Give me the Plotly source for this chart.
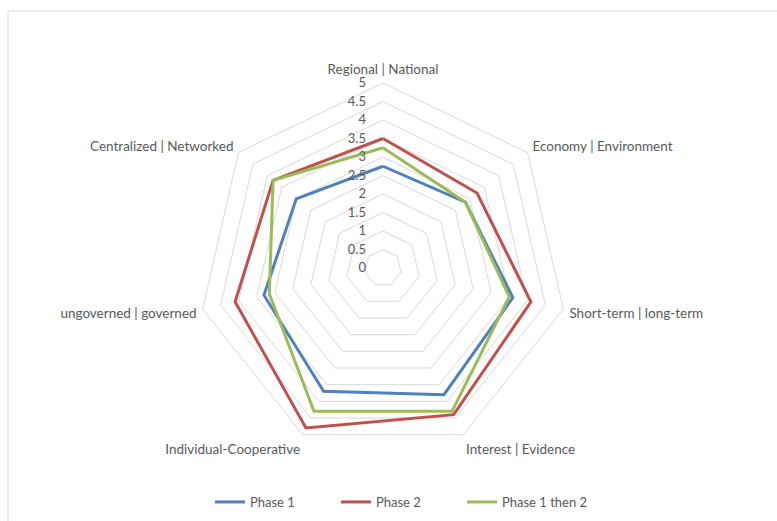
import plotly.graph_objects as go

categories = ["Regional | National", "Economy | Environment", "Short-term | long-term",
              "Interest | Evidence", "Individual-Cooperative", "ungoverned | governed",
              "Centralized | Networked"]
phase1 = [2.75, 2.85, 3.6, 3.8, 3.7, 3.3, 3.0]
phase2 = [3.5, 3.25, 4.1, 4.4, 4.8, 4.1, 3.8]
phase1then2 = [3.25, 2.85, 3.5, 4.3, 4.3, 3.15, 3.8]
series_names = ["Phase 1", "Phase 2", "Phase 1 then 2"]
series_colors = ["#4F81BD", "#C0504D", "#9BBB59"]
radial_ticks = [0, 0.5, 1, 1.5, 2, 2.5, 3, 3.5, 4, 4.5, 5]

fig = go.Figure()
for name, vals, col in zip(series_names, [phase1, phase2, phase1then2], series_colors):
    fig.add_trace(go.Scatterpolar(
        r=vals + vals[:1], theta=categories + categories[:1],
        mode="lines", name=name, line=dict(color=col, width=3)))

W, H = 777, 521
cx, cy, R = 383, 268, 185
font = "Lato, 'Open Sans', sans-serif"
fig.update_layout(
    width=W, height=H,
    margin=dict(l=0, r=0, t=0, b=0),
    paper_bgcolor="white",
    font=dict(family=font, size=13, color="#595959"),
    polar=dict(
        domain=dict(x=[(cx - R) / W, (cx + R) / W], y=[(H - cy - R) / H, (H - cy + R) / H]),
        bgcolor="white",
        gridshape="linear",
        radialaxis=dict(range=[0, 5], tickvals=radial_ticks, ticktext=[f"{v:g}" for v in radial_ticks],
                        angle=90, tickangle=90, side="counterclockwise",
                        showline=False, ticks="outside", ticklen=12, tickcolor="rgba(0,0,0,0)",
                        gridcolor="#D9D9D9", gridwidth=1,
                        tickfont=dict(size=13, color="#595959")),
        angularaxis=dict(direction="clockwise", rotation=90, showgrid=False,
                         showline=True, linecolor="#D9D9D9", linewidth=1,
                         ticks="outside", ticklen=3, tickcolor="rgba(0,0,0,0)",
                         tickfont=dict(size=13.5, color="#595959")),
    ),
    legend=dict(orientation="h", x=210 / W, xanchor="left", y=(H - 502) / H, yanchor="middle",
                font=dict(size=13, color="#595959"), entrywidth=81, entrywidthmode="pixels",
                itemwidth=30),
    shapes=[dict(type="rect", xref="paper", yref="paper",
                 x0=8 / W, x1=1.01, y0=-0.05, y1=(H - 11) / H,
                 line=dict(color="#D9D9D9", width=1), fillcolor="rgba(0,0,0,0)", layer="below")],
)
fig.write_html("out.html")
